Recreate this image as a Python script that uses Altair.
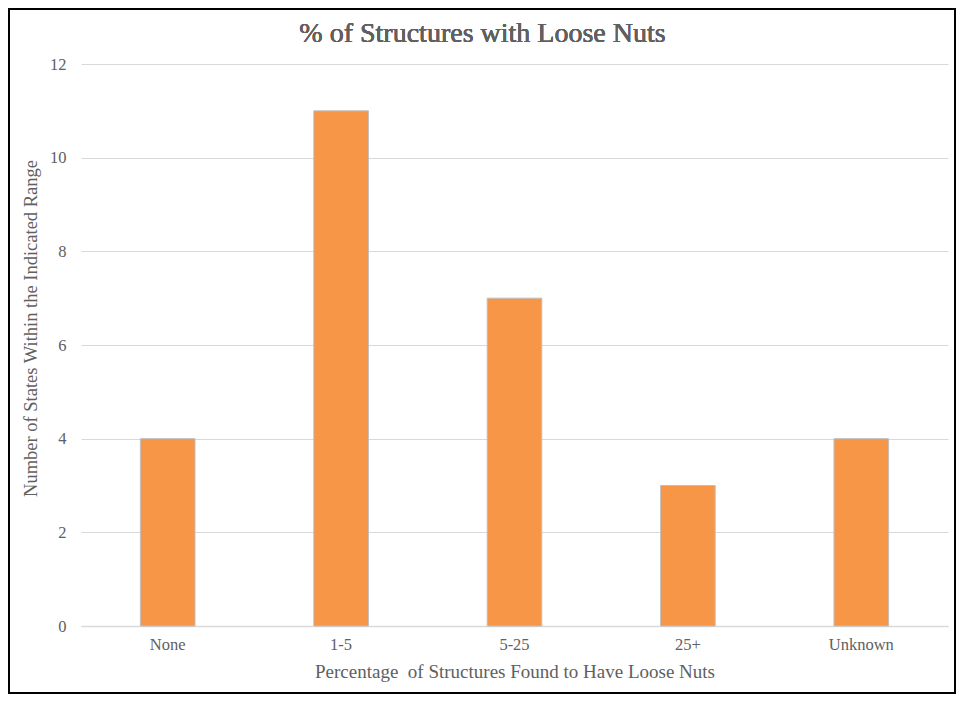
import altair as alt
import pandas as pd

categories = ["None", "1-5", "5-25", "25+", "Unknown"]
counts = [4, 11, 7, 3, 4]
title_text = "% of Structures with Loose Nuts"
x_title = "Percentage\u00a0\u00a0of Structures Found to Have Loose Nuts"
y_title = "Number of States Within the Indicated Range"

df = pd.DataFrame({"cat": categories, "n": counts})

W, H = 867, 562
font = "Liberation Serif"
gray = "#606060"

bars = alt.Chart(df).mark_bar(color="#F79646", stroke="#BFBFBF", strokeWidth=1).encode(
    x=alt.X("cat:N", sort=categories,
            scale=alt.Scale(paddingInner=0.685, paddingOuter=0.3425),
            axis=alt.Axis(title=x_title,
                          labelAngle=0, labelFont=font, labelFontSize=16.5, labelColor=gray,
                          titleFont=font, titleFontSize=19, titleColor=gray, titleFontWeight="normal",
                          ticks=False, domainColor="#D9D9D9", domainWidth=1.5,
                          labelPadding=10, titlePadding=10)),
    y=alt.Y("n:Q", scale=alt.Scale(domain=[0, 12]),
            axis=alt.Axis(title=y_title, values=[0, 2, 4, 6, 8, 10, 12],
                          labelFont=font, labelFontSize=16.5, labelColor=gray,
                          titleFont=font, titleFontSize=18.5, titleColor=gray, titleFontWeight="normal",
                          ticks=False, domain=False, gridColor="#D9D9D9", gridWidth=1.2,
                          labelPadding=15, titlePadding=9, titleY=264)),
)

frame = alt.Chart(df).mark_rect(fill="transparent", stroke="#000000", strokeWidth=2).encode(
    x=alt.value(-72), x2=alt.value(W + 7), y=alt.value(-55), y2=alt.value(H + 67)
)

title = alt.Chart(df).mark_text(font=font, fontSize=28, color=gray, align="center", baseline="middle").encode(
    x=alt.value(W / 2 - 32), y=alt.value(-30), text=alt.value(title_text)
)

chart = alt.layer(bars, frame, title).properties(
    width=W, height=H,
    autosize=alt.AutoSizeParams(type="none"),
    padding={"left": 73, "top": 56, "right": 8, "bottom": 68},
).configure_view(stroke=None)

chart.save("out.html", embed_options={"renderer": "svg", "actions": False})
